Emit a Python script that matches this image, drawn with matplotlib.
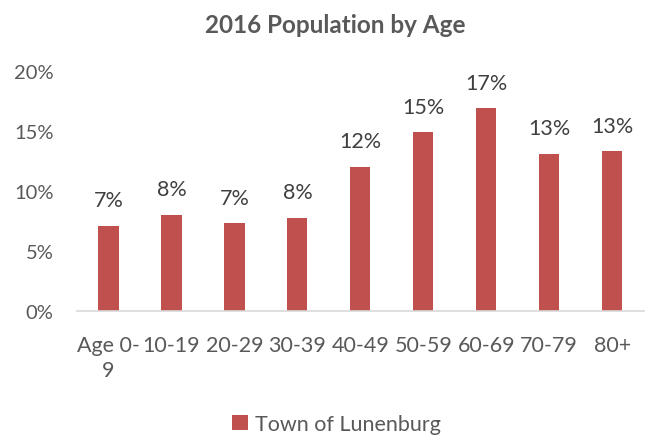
import matplotlib.pyplot as plt
from matplotlib.ticker import FuncFormatter

plt.rcParams['font.family'] = ['Lato', 'DejaVu Sans']

ages = ["Age 0-\n9", "10-19", "20-29", "30-39", "40-49", "50-59", "60-69", "70-79", "80+"]
share = [7.1, 8.0, 7.3, 7.75, 12.0, 14.9, 16.9, 13.1, 13.3]
labels = ["7%", "8%", "7%", "8%", "12%", "15%", "17%", "13%", "13%"]

red = "#C0504D"
grey = "#595959"

fig = plt.figure(figsize=(6.47, 4.39), dpi=100)
ax = fig.add_axes([0.119, 0.289, 0.876, 0.547])

x = range(len(ages))
bars = ax.bar(x, share, width=0.32, color=red, label="Town of Lunenburg")
for b, t in zip(bars, labels):
    ax.text(b.get_x() + b.get_width() / 2, b.get_height() + 1.3, t,
            ha="center", va="bottom", fontsize=15.5, color="#404040")

ax.set_xlim(-0.5, len(ages) - 0.5)
ax.set_ylim(0, 20)
ax.set_yticks([0, 5, 10, 15, 20])
ax.yaxis.set_major_formatter(FuncFormatter(lambda v, p: f"{v:.0f}%"))
ax.set_xticks(list(x))
ax.set_xticklabels(ages, linespacing=1.35, va="top")
ax.tick_params(axis="both", length=0, colors=grey)
ax.tick_params(axis="x", pad=17, labelsize=15.5)
ax.tick_params(axis="y", pad=17, labelsize=14.5)

for s in ["top", "right", "left"]:
    ax.spines[s].set_visible(False)
ax.spines["bottom"].set_color("#D9D9D9")
ax.spines["bottom"].set_linewidth(1.2)

fig.text(0.518, 0.943, "2016 Population by Age", ha="center", va="center",
         fontsize=17.5, fontweight="bold", color=grey)

fig.legend(loc="center", bbox_to_anchor=(0.52, 0.032), frameon=False,
           fontsize=15.5, labelcolor=grey, handlelength=0.75, handleheight=0.75,
           handletextpad=0.3)

fig.savefig("out.png", dpi=100)
